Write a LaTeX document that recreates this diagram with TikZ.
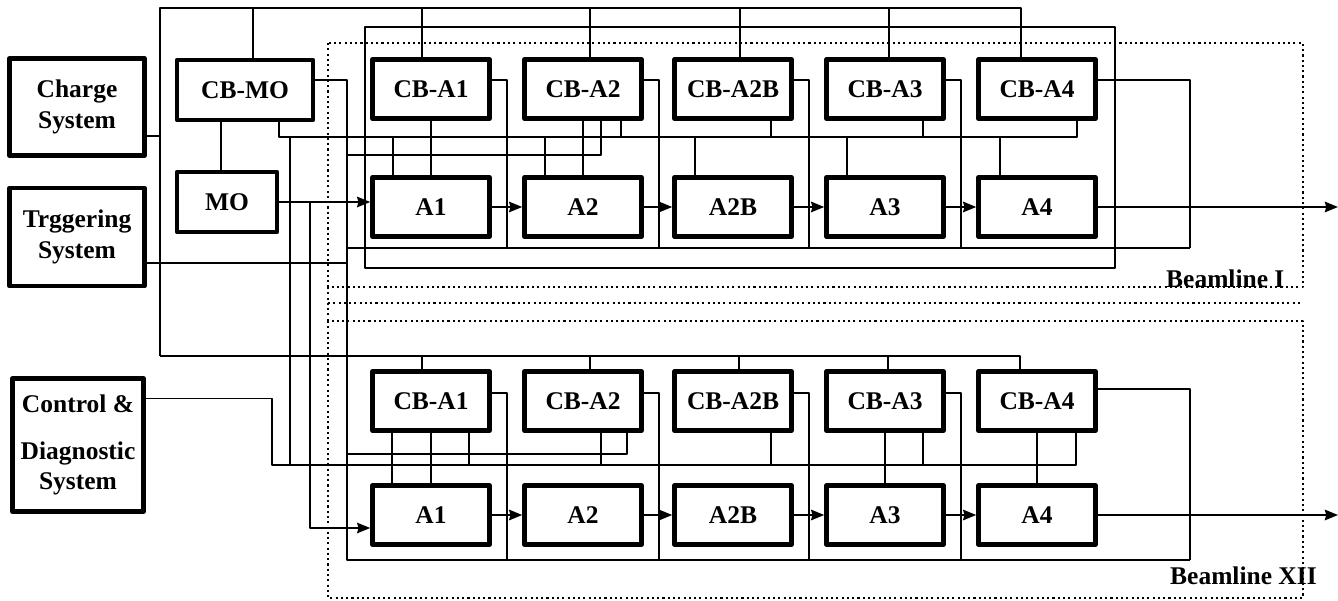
\documentclass[tikz,border=0pt]{standalone}
\usepackage{fontspec}
\setmainfont{Liberation Serif}
\usetikzlibrary{arrows.meta}
\newcommand{\sysfont}{\fontsize{14.5}{17.5}\selectfont\bfseries}
\tikzset{
  every picture/.style={line join=round, >={Stealth[length=7.5pt,width=6pt,inset=0.8pt]}},
  box/.style={draw, line width=2.6pt, inner sep=0pt, minimum width=2.34cm, minimum height=1.18cm, font=\sysfont},
  sysbox/.style={box, align=center},
  wire/.style={line width=1.1pt},
  fine/.style={line width=0.6pt},
  beam/.style={line width=1pt, dash pattern=on 1.2pt off 1.8pt},
}

\begin{document}
\begin{tikzpicture}[x=0.02cm,y=-0.02cm]
\useasboundingbox (0,0) rectangle (1338,601);
% systems
\node[sysbox, minimum width=2.7cm, minimum height=1.94cm] (charge) at (77,107) {Charge\\System};
\node[sysbox, minimum width=2.7cm, minimum height=1.96cm] (trigger) at (77,237) {Trggering\\System};
\node[sysbox, minimum width=2.62cm, minimum height=2.66cm] (control) at (78,445) {Control \&\\[0.32cm]Diagnostic\\System};
\node[box, minimum width=2.72cm, minimum height=1.2cm] (cbmo) at (245,90) {CB-MO};
\node[box, minimum width=2cm, minimum height=1.2cm] (mo) at (227,202) {MO};
% amplifier chains
\foreach \n/\x in {A1/431, A2/583, A2B/733, A3/885, A4/1037} {
  \node[box] (tCB\n) at (\x,89) {CB-\n};
  \node[box] (t\n) at (\x,207) {\n};
  \node[box] (bCB\n) at (\x,401) {CB-\n};
  \node[box] (b\n) at (\x,515) {\n};
}
% beamline frames
\draw[beam] (328,43) rectangle (1303,287);
\draw[beam] (328,303) -- (1303,303);
\draw[beam] (328,321) rectangle (1303,598);
\draw[beam] (328,287) -- (328,321);
\node[font=\sysfont, anchor=base west] (blI) at (1160,287) {Beamline I};
\node[font=\sysfont, anchor=base west] (blXII) at (1164,584) {Beamline XII};
\draw[fine] (365,27) rectangle (1115,268);

% charge system feed
\coordinate (spineT) at (160,8);
\coordinate (spineB) at (160,356);
\draw[wire] ([yshift=-0.58cm]charge.east) -- ([yshift=-0.58cm]charge.east -| spineT);
\draw[wire] (spineB) -- (spineT) -| ([xshift=-0.32cm]tCBA4.north);
\draw[wire] ([xshift=0.16cm]cbmo.north) -- ([xshift=0.16cm]cbmo.north |- spineT);
\foreach \n/\d in {A1/-0.18, A2/0.14, A2B/0.14, A3/0.08}
  \draw[wire] ([xshift=\d cm]tCB\n.north) -- ([xshift=\d cm]tCB\n.north |- spineT);
\draw[wire] (spineB) -| ([xshift=-0.34cm]bCBA4.north);
\foreach \n/\d in {A1/-0.18, A2/0.14, A2B/0.12, A3/0.06}
  \draw[wire] ([xshift=\d cm]bCB\n.north) -- ([xshift=\d cm]bCB\n.north |- spineB);
\draw[wire] ([xshift=-0.12cm]mo.north) -- ([xshift=-0.12cm]mo.north |- cbmo.south);

% master oscillator output
\coordinate (moTap) at (310,0);
\draw[wire,->] (mo.east) -- (mo.east -| tA1.west);
\draw[fine,->] (mo.east -| moTap) |- ([yshift=-0.26cm]bA1.west);

% CB-MO line and CB outputs
\coordinate (chg) at (347,0);
\coordinate (tEnd) at (1190,248);
\coordinate (bEnd) at (1190,560);
\draw[wire] ([yshift=0.2cm]cbmo.east) -| (chg |- bEnd) -- (bEnd);
\draw[wire] (chg |- tEnd) -- (tEnd);
\draw[fine] ([yshift=-0.52cm]trigger.east) -- ([yshift=-0.52cm]trigger.east -| chg);
\foreach \n in {A1, A2, A2B, A3} {
  \draw[wire] ([yshift=0.18cm]tCB\n.east) -| ([xshift=0.3cm]tCB\n.east |- tEnd);
  \draw[wire] ([yshift=0.16cm]bCB\n.east) -| ([xshift=0.3cm]bCB\n.east |- bEnd);
}
\draw[wire] ([yshift=0.18cm]tCBA4.east) -| (tEnd);
\draw[wire] ([yshift=0.24cm]bCBA4.east) -| (bEnd);
\coordinate (tFeed) at (601,155);
\coordinate (bFeed) at (627,454);
\draw[wire] (chg |- tFeed) -- (tFeed) -- (tFeed |- tCBA2.south);
\draw[wire] (chg |- bFeed) -- (bFeed) -- (bFeed |- bCBA2.south);

% control buses
\coordinate (tbusL) at (279,137);
\coordinate (tbusR) at (1077,137);
\coordinate (bbusL) at (272,465);
\coordinate (bbusR) at (1076,465);
\coordinate (link) at (290,137);
\draw[wire] (cbmo.south -| tbusL) -- (tbusL) -- (tbusR) -- (tbusR |- tCBA4.south);
\draw[wire] ([yshift=0.93cm]control.east) -| (bbusL) -- (bbusR) -- (bbusR |- bCBA4.south);
\draw[wire] (link) -- (link |- bbusL);

% Beamline I links
\foreach \n in {A1, A2, A2B, A3}
  \draw[wire] ([xshift=-0.76cm]t\n.north) -- ([xshift=-0.76cm]t\n.north |- tbusL);
\draw[fine] ([xshift=-0.74cm]tA4.north) -- ([xshift=-0.74cm]tA4.north |- tbusL);
\foreach \n in {A2, A2B, A3}
  \draw[wire] ([xshift=0.76cm]tCB\n.south) -- ([xshift=0.76cm]tCB\n.south |- tbusL);
\draw[wire] (tCBA1.south) -- (tA1.north);
\draw[wire] (tCBA2.south) -- (tA2.north);

% Beamline XII links
\draw[wire] (bCBA1.south) -- (bA1.north);
\draw[wire] ([xshift=-0.78cm]bCBA1.south) -- ([xshift=-0.78cm]bA1.north);
\foreach \n in {A1, A2B, A3}
  \draw[wire] ([xshift=0.76cm]bCB\n.south) -- ([xshift=0.76cm]bCB\n.south |- bbusL);
\draw[wire] ([xshift=0.36cm]bCBA2.south) -- ([xshift=0.36cm]bCBA2.south |- bbusL);
\draw[wire] (bCBA3.south) -- (bA3.north);
\draw[wire] (bCBA4.south) -- (bA4.north);

% amplifier chain
\foreach \a/\b in {A1/A2, A2/A2B, A2B/A3, A3/A4} {
  \draw[wire,->] (t\a) -- (t\b);
  \draw[wire,->] (b\a) -- (b\b);
}
\coordinate (tOut) at (1338,207);
\coordinate (bOut) at (1338,515);
\draw[wire,->] (tA4) -- (tOut);
\draw[wire,->] (bA4) -- (bOut);
\end{tikzpicture}
\end{document}
